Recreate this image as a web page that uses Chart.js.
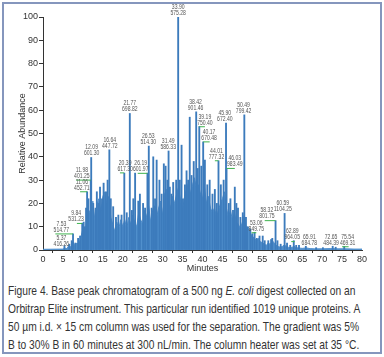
<!DOCTYPE html>
<html><head><meta charset="utf-8">
<script src="https://cdn.jsdelivr.net/npm/chart.js@4/dist/chart.umd.min.js"></script>
<style>
html,body{margin:0;padding:0;background:#fff;}
#frame{position:absolute;left:2px;top:2px;width:376px;height:348px;border:2px solid #8596bd;}
#wrap{position:absolute;left:0;top:0;width:384px;height:275px;}
#cap{position:absolute;left:8px;top:282px;white-space:nowrap;font-family:'Liberation Sans',Arial,sans-serif;font-size:13px;line-height:18px;color:#333;transform:scaleX(0.788);transform-origin:0 0;}
</style></head>
<body>
<div id="frame"></div>
<div id="wrap"><canvas id="c" width="384" height="275"></canvas></div>
<div id="cap">Figure 4. Base peak chromatogram of a 500 ng <i>E. coli</i> digest collected on an<br>Orbitrap Elite instrument. This particular run identified 1019 unique proteins. A<br>50 µm i.d. × 15 cm column was used for the separation. The gradient was 5%<br>B to 30% B in 60 minutes at 300 nL/min. The column heater was set at 35 °C.</div>
<script>
// Background (dense) signal: retention time (min) and relative abundance (%)
const envTimes = [0,5,5.5,6,6.5,7,7.5,8,8.5,9,9.5,10,10.5,11,11.5,12,12.5,13,13.5,14,14.5,15,15.5,16,16.5,17,17.5,18,18.5,19,19.5,20,20.5,21,21.5,22,22.5,23,23.5,24,24.5,25,25.5,26,26.5,27,27.5,28,28.5,29,29.5,30,30.5,31,31.5,32,32.5,33,33.5,34,34.5,35,35.5,36,36.5,37,37.5,38,38.5,39,39.5,40,40.5,41,41.5,42,42.5,43,43.5,44,44.5,45,45.5,46,46.5,47,47.5,48,48.5,49,49.5,50,50.5,51,51.5,52,52.5,53,53.5,54,54.5,55,55.5,56,56.5,57,57.5,58,58.5,59,59.5,60,60.5,61,61.5,62,62.5,63,63.5,64,64.5,65,66,67,68,70,72,74,76,78,80];
const envValues = [0.3,0.4,0.8,0.6,2.0,1.2,3.5,1.8,3.0,2.2,5.5,9,7,13,17,15,21,13,19,22,16,23,25,19,23,14,11,8,12,9,13,10,13,9,14,11,15,12,10,16,13,11,17,14,19,12,17,19,14,18,21,15,24,26,21,18,23,20,24,27,21,17,23,26,29,24,28,31,26,28,24,22,27,20,23,18,16,18,14,17,20,22,25,18,14,17,13,16,12,11,9,12,15,8,10,7,6,5,4,5,3.5,3.2,2.5,2.0,3.0,2.4,4.0,3.0,2.0,1.5,1.2,1.5,2.2,1.5,1.2,1.0,1.2,1.6,1.0,0.9,0.8,0.7,0.9,0.6,0.5,0.5,0.6,0.5,0.5,0.4,0.4];

// Individual peaks: retention time (min) and relative abundance (%)
const peakTimes = [5.37,6.6,7.2,7.53,8.1,8.8,9.3,9.84,10.2,10.5,10.8,11.06,11.4,11.98,12.09,12.6,13.2,13.5,14.0,14.3,14.8,15.2,15.8,16.2,16.64,17.0,17.6,18.3,18.9,19.7,20.39,21.0,21.77,22.3,22.65,23.1,23.9,24.3,25.1,25.6,26.19,26.53,27.25,27.65,28.1,28.5,29.2,29.75,30.3,30.75,31.2,31.49,31.8,32.2,32.65,33.4,33.9,34.3,34.75,35.1,35.6,36.0,36.4,36.8,37.25,37.8,38.42,38.8,39.19,39.7,40.17,40.6,41.2,41.8,42.5,43.1,43.6,44.01,44.6,45.3,45.9,46.03,46.6,47.0,47.65,48.1,48.5,48.9,49.5,50.1,50.49,50.9,51.2,52.0,52.5,53.06,53.6,54.3,55.1,55.6,56.5,57.2,57.5,58.32,58.8,59.6,60.59,61.2,62.0,62.89,63.5,64.2,65.91,68.5,70.2,72.65,73.4,75.54];
const peakValues = [1.8,2.5,4,6.9,3,5,6,11.5,12,10,18,25,22,30,39.7,20,18,25,20,27,22,28.7,25,30,43,22,18.6,14,15,15,33,16,58.6,17,22,33,21,24,20,18,33,44.6,18,40,22,38.6,30,24,37,36,30,42.5,27,24,29,30,100,30,45,22,28,34,30,57,32,38,59.3,35,53,36,46.4,38.6,28,30,24,26,20,38.3,28,30,54.5,35,20,22,17,27,20,18,14,16,58,14,10,9,7,7.6,5,6,6,4,4,4.5,5,12.6,4,2.5,15.7,3,2,4,2,2,1.6,1,1,1.6,1.2,1.5];

// Peak annotations: retention time text, m/z text, label anchor (min, %), leader line span (min)
const labelRT = ['33.90','21.77','16.64','12.09','11.98','11.06','9.84','7.53','5.37','20.39','26.19','26.53','31.49','38.42','39.19','40.17','44.01','45.90','46.03','50.49','53.06','58.32','60.59','62.89','65.91','72.65','75.54'];
const labelMZ = ['575.28','698.82','447.72','601.30','401.25','452.71','531.23','514.77','416.26','617.30','601.97','514.30','586.33','901.46','750.40','670.48','777.32','672.40','983.49','799.42','849.75','801.75','1104.25','964.05','684.78','484.39','469.31'];
const labelAtMin = [33.9,21.77,16.75,12.2,9.75,9.75,8.3,4.6,4.6,20.6,24.5,26.4,31.4,38.25,40.6,41.65,43.5,45.6,48.1,50.3,53.5,56.15,60.15,62.5,66.8,72.25,76.4];
const labelAtPct = [100,58.6,43,39.7,30,25,11.4,6.9,0.9,33.1,32.9,44.6,42.5,59.3,52.9,46.4,38.3,54.5,35,58,7.4,12.6,15.7,3.6,1.3,1.3,1.4];
const leaderFrom = [null,null,null,null,8.3,9.3,8.5,3.1,null,19.3,23.75,null,null,null,39.19,40.17,43.1,null,46.03,null,52.3,55.6,null,62.25,null,null,75.0];
const leaderTo   = [null,null,null,null,11.98,11.06,9.84,7.53,null,20.39,26.19,null,null,null,40.6,41.8,44.01,null,48.1,null,53.5,58.32,null,63.1,null,null,76.65];

const FONT = "'Liberation Sans',Arial,sans-serif";

const labelPlugin = {
  id: 'peakLabels',
  afterDatasetsDraw(chart) {
    const {ctx, scales: {x, y}} = chart;
    ctx.save();
    ctx.textAlign = 'center';
    ctx.textBaseline = 'middle';
    ctx.font = '6.5px ' + FONT;
    for (let i = 0; i < labelRT.length; i++) {
      const px = x.getPixelForValue(labelAtMin[i]);
      const py = y.getPixelForValue(labelAtPct[i]);
      if (leaderFrom[i] !== null) {
        ctx.strokeStyle = '#3fb34f';
        ctx.lineWidth = 1;
        ctx.beginPath();
        ctx.moveTo(x.getPixelForValue(leaderFrom[i]), py);
        ctx.lineTo(x.getPixelForValue(leaderTo[i]), py);
        ctx.stroke();
      }
      ctx.fillStyle = '#555';
      ctx.save();
      ctx.translate(px, py);
      ctx.scale(0.78, 1);
      ctx.fillText(labelMZ[i], 0, -4);
      ctx.fillText(labelRT[i], 0, -10);
      ctx.restore();
    }
    ctx.restore();
  }
};

new Chart(document.getElementById('c'), {
  type: 'bar',
  data: {
    datasets: [
      {
        type: 'line',
        data: envTimes.map((t, i) => ({x: t, y: envValues[i]})),
        borderColor: '#5190cd',
        backgroundColor: '#5190cd',
        borderWidth: 1,
        pointRadius: 0,
        tension: 0,
        fill: 'origin',
        order: 1
      },
      {
        type: 'bar',
        data: peakTimes.map((t, i) => ({x: t, y: peakValues[i]})),
        backgroundColor: '#3c7bbc',
        borderWidth: 0,
        barThickness: 1.2,
        order: 0
      }
    ]
  },
  options: {
    responsive: false,
    animation: false,
    layout: {padding: {left: 3, top: 17, right: 22, bottom: 0}},
    plugins: {legend: {display: false}, tooltip: {enabled: false}},
    scales: {
      x: {
        type: 'linear', min: 0, max: 80, offset: false,
        ticks: {stepSize: 5, color: '#333', font: {family: FONT, size: 9}, padding: 1, maxRotation: 0, autoSkip: false},
        grid: {drawOnChartArea: false, tickLength: 3, color: '#333'},
        border: {color: '#333', width: 1},
        title: {display: true, text: 'Minutes', color: '#333', font: {family: FONT, size: 9}, padding: {top: 0, bottom: 1}},
        afterFit: s => { s.height = 25; }
      },
      y: {
        min: 0, max: 100,
        ticks: {stepSize: 10, color: '#333', font: {family: FONT, size: 9}, padding: 1},
        grid: {drawOnChartArea: false, tickLength: 4, color: '#333'},
        border: {color: '#333', width: 1},
        title: {display: true, text: 'Relative Abundance', color: '#333', font: {family: FONT, size: 9}, padding: {top: 14, bottom: 0}},
        afterFit: s => { s.width = 40; }
      }
    }
  },
  plugins: [labelPlugin]
});
</script>
</body></html>
